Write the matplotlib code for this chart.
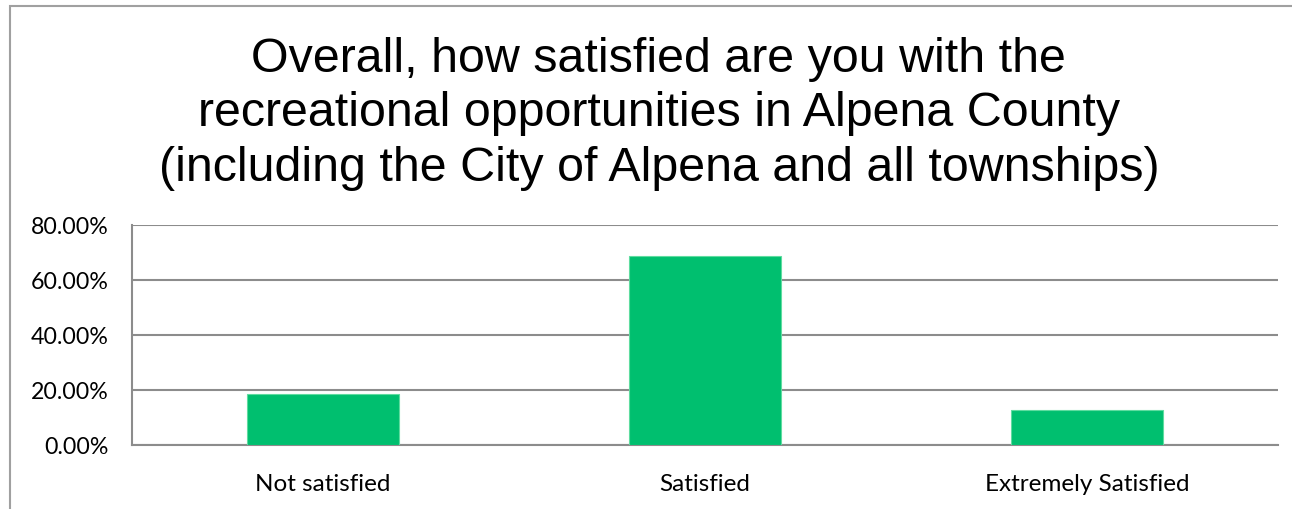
import matplotlib
matplotlib.use("Agg")
import matplotlib.pyplot as plt
from matplotlib.patches import Rectangle
from matplotlib.ticker import FuncFormatter

categories = ["Not satisfied", "Satisfied", "Extremely Satisfied"]
values = [18.6, 68.7, 12.7]
yticks = [0, 20, 40, 60, 80]
title = ("Overall, how satisfied are you with the\n"
         "recreational opportunities in Alpena County\n"
         "(including the City of Alpena and all townships)")

W, H = 1292, 510
fig = plt.figure(figsize=(W / 100, H / 100), dpi=100)

# chart frame (cut off at right and bottom)
fig.patches.append(Rectangle((10 / W, -0.1), 1.2, (H - 7) / H + 0.1,
                             transform=fig.transFigure, fill=False,
                             edgecolor="#a0a0a0", linewidth=1.5))

left, right = 132 / W, 1278 / W
top, bottom = 1 - 226 / H, 1 - 446 / H
ax = fig.add_axes([left, bottom, right - left, top - bottom])

x = range(len(categories))
ax.bar(x, values, width=0.4, color="#00bf6f", edgecolor="#5fdca0", linewidth=0.8, zorder=3)
ax.set_xlim(-0.5, 2.5)
ax.set_ylim(0, 80)
ax.set_yticks(yticks)
ax.yaxis.set_major_formatter(FuncFormatter(lambda v, p: f"{v:.2f}%"))
ax.set_xticks(list(x))
ax.set_xticklabels(categories)
ax.grid(axis="y", color="#8c8c8c", linewidth=1.5, zorder=0)
for s in ["top", "right"]:
    ax.spines[s].set_visible(False)
for s in ["left", "bottom"]:
    ax.spines[s].set_color("#8c8c8c")
    ax.spines[s].set_linewidth(1.5)
ax.tick_params(length=0, colors="black")
ax.tick_params(axis="y", labelsize=16.7, pad=17)
ax.tick_params(axis="x", labelsize=17.5, pad=20)
for lab in ax.get_xticklabels() + ax.get_yticklabels():
    lab.set_fontfamily("Lato")

fig.text(0.51, 1 - 114 / H, title, ha="center", va="center",
         fontsize=34.8, fontfamily="Liberation Sans", linespacing=1.26)

fig.savefig("out.png", dpi=100)
